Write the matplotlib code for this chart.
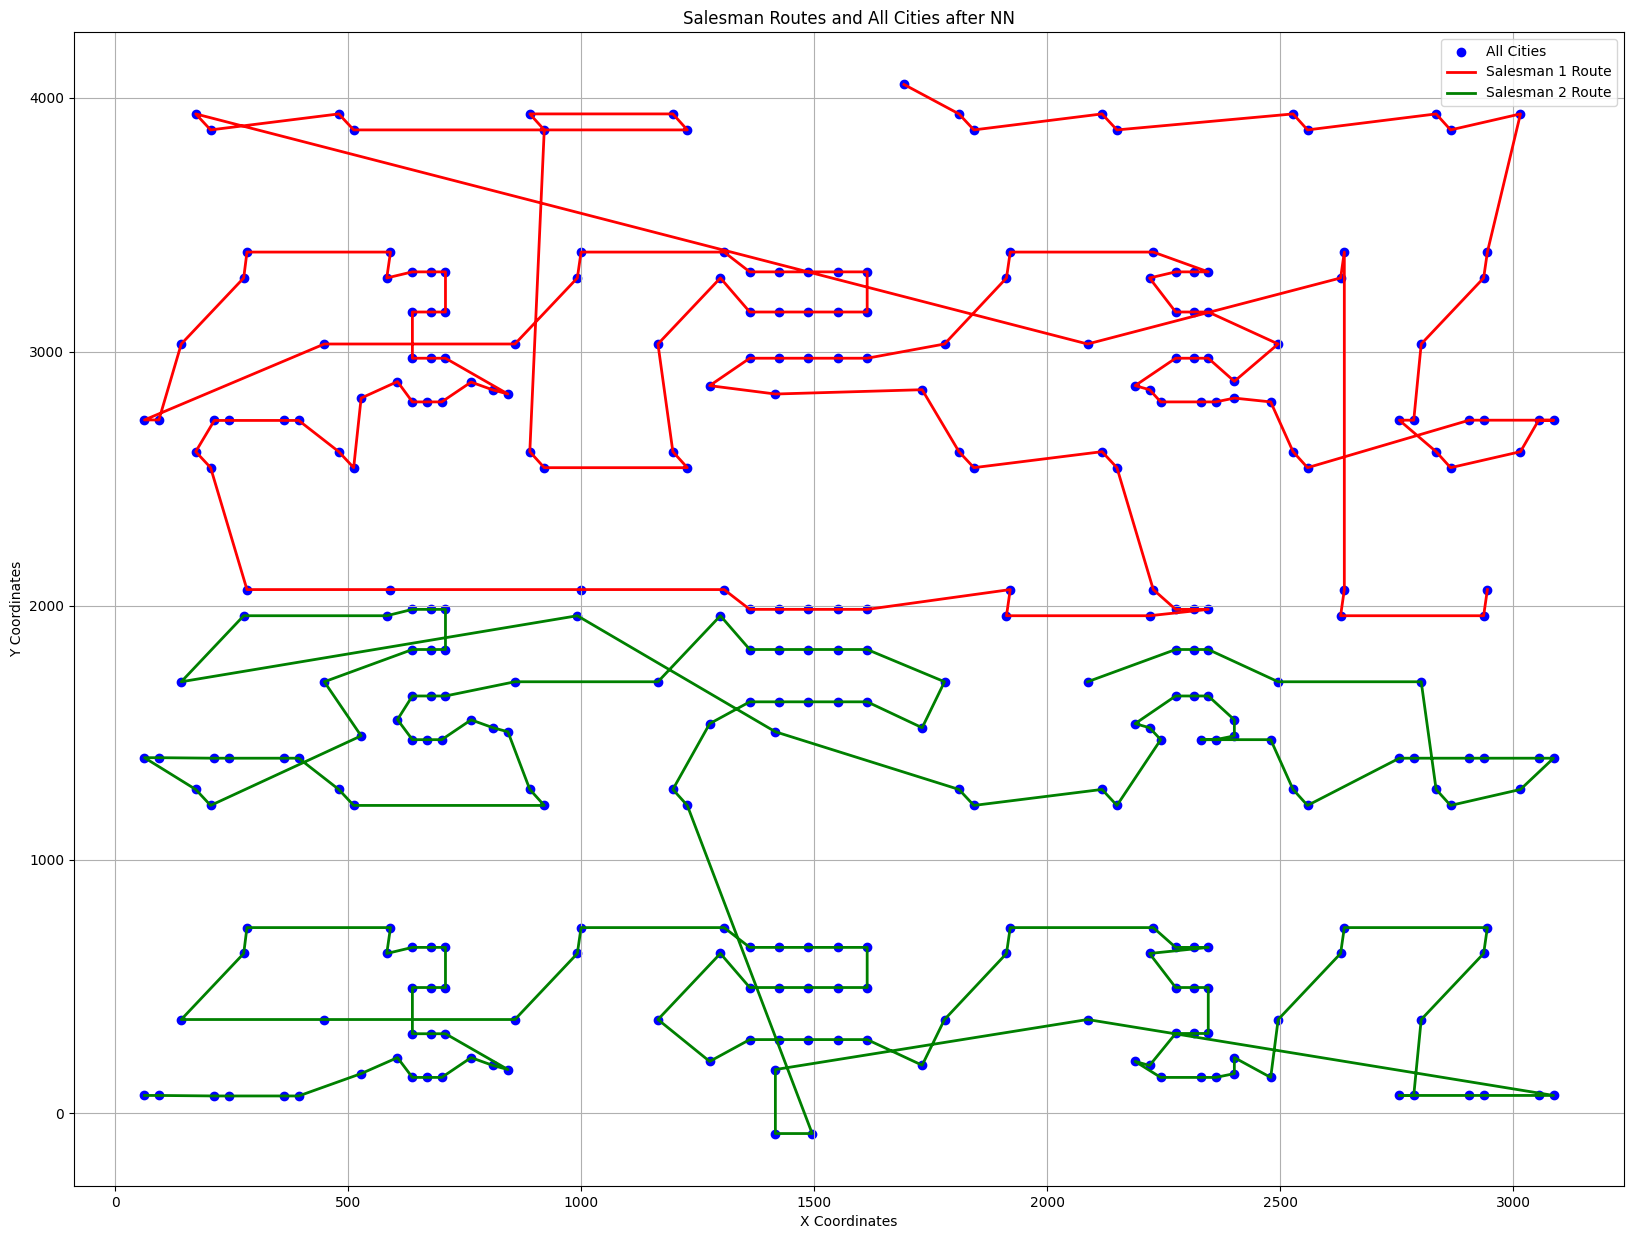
import matplotlib
matplotlib.use("Agg")
import matplotlib.pyplot as plt

# Salesman 1 route (ordered cities)
s1_x = [1693, 1811, 1843, 2118, 2150, 2528, 2559, 2835, 2866, 3016,
        2945, 2937, 2803, 2787, 2756, 2835, 2866, 3016, 3055, 3087,
        2937, 2906, 2559, 2528, 2480, 2402, 2362, 2331, 2244, 2220,
        2189, 2276, 2315, 2346, 2402, 2496, 2346, 2315, 2276, 2220,
        2276, 2315, 2346, 2228, 1921, 1913, 1780, 1614, 1551, 1488,
        1425, 1362, 1276, 1417, 1732, 1811, 1843, 2118, 2150, 2228,
        2276, 2315, 2346, 2220, 1913, 1921, 1614, 1551, 1488, 1425,
        1362, 1307, 1000, 591, 283, 205, 173, 213, 244, 362,
        394, 480, 512, 528, 606, 638, 669, 701, 764, 811,
        843, 709, 677, 638, 638, 677, 709, 709, 677, 638,
        583, 591, 283, 276, 142, 94, 63, 449, 858, 992,
        1000, 1307, 1362, 1425, 1488, 1551, 1614, 1614, 1551, 1488,
        1425, 1362, 1299, 1165, 1197, 1228, 921, 890, 921, 890,
        1197, 1228, 512, 480, 205, 173, 2087, 2630, 2638, 2638,
        2630, 2937, 2945]
s1_y = [4052, 3936, 3873, 3936, 3873, 3936, 3873, 3936, 3873, 3936,
        3392, 3290, 3030, 2730, 2730, 2606, 2543, 2606, 2730, 2730,
        2730, 2730, 2543, 2606, 2802, 2817, 2802, 2802, 2802, 2850,
        2866, 2974, 2974, 2974, 2883, 3030, 3156, 3156, 3156, 3290,
        3314, 3314, 3314, 3392, 3392, 3290, 3030, 2974, 2974, 2974,
        2974, 2974, 2866, 2833, 2850, 2606, 2543, 2606, 2543, 2063,
        1985, 1985, 1985, 1960, 1960, 2063, 1985, 1985, 1985, 1985,
        1985, 2063, 2063, 2063, 2063, 2543, 2606, 2729, 2729, 2729,
        2729, 2606, 2543, 2817, 2882, 2802, 2802, 2802, 2880, 2849,
        2833, 2974, 2974, 2974, 3156, 3156, 3156, 3314, 3314, 3314,
        3290, 3392, 3392, 3290, 3030, 2731, 2731, 3030, 3030, 3290,
        3392, 3392, 3314, 3314, 3314, 3314, 3314, 3156, 3156, 3156,
        3156, 3156, 3290, 3030, 2606, 2543, 2543, 2606, 3873, 3936,
        3936, 3873, 3873, 3936, 3873, 3936, 3030, 3290, 3392, 2063,
        1960, 1960, 2063]

# Salesman 2 route (ordered cities)
s2_x = [2087, 2276, 2315, 2346, 2496, 2803, 2835, 2866, 3016, 3087,
        3055, 2937, 2906, 2787, 2756, 2559, 2528, 2480, 2331, 2362,
        2402, 2402, 2346, 2315, 2276, 2189, 2220, 2244, 2150, 2118,
        1843, 1811, 1417, 992, 142, 276, 583, 638, 677, 709,
        709, 677, 638, 449, 528, 205, 173, 63, 94, 213,
        244, 362, 394, 480, 512, 921, 890, 843, 811, 764,
        701, 669, 638, 606, 638, 677, 709, 858, 1165, 1299,
        1362, 1425, 1488, 1551, 1614, 1780, 1732, 1614, 1551, 1488,
        1425, 1362, 1276, 1197, 1228, 1496, 1417, 1417, 2087, 3087,
        3055, 2937, 2906, 2756, 2787, 2803, 2937, 2945, 2638, 2630,
        2496, 2480, 2402, 2402, 2362, 2331, 2244, 2189, 2220, 2276,
        2315, 2346, 2346, 2315, 2276, 2220, 2346, 2315, 2276, 2228,
        1921, 1913, 1780, 1732, 1614, 1551, 1488, 1425, 1362, 1276,
        1165, 1299, 1362, 1425, 1488, 1551, 1614, 1614, 1551, 1488,
        1425, 1362, 1307, 1000, 992, 858, 449, 142, 276, 283,
        591, 583, 638, 677, 709, 709, 677, 638, 638, 677,
        709, 843, 811, 764, 701, 669, 638, 606, 528, 394,
        362, 244, 213, 94, 63]
s2_y = [1700, 1827, 1827, 1827, 1700, 1700, 1276, 1213, 1276, 1399,
        1399, 1399, 1399, 1399, 1399, 1213, 1276, 1472, 1472, 1472,
        1487, 1550, 1644, 1644, 1644, 1535, 1519, 1472, 1213, 1276,
        1213, 1276, 1503, 1960, 1700, 1960, 1960, 1985, 1985, 1985,
        1827, 1827, 1827, 1700, 1487, 1213, 1276, 1401, 1401, 1399,
        1399, 1399, 1399, 1276, 1213, 1213, 1276, 1503, 1519, 1550,
        1472, 1472, 1472, 1551, 1644, 1644, 1644, 1700, 1700, 1960,
        1827, 1827, 1827, 1827, 1827, 1700, 1519, 1621, 1621, 1621,
        1621, 1621, 1535, 1276, 1213, -79, -79, 173, 370, 71,
        71, 71, 71, 71, 71, 370, 630, 732, 732, 630,
        370, 142, 220, 157, 142, 142, 142, 205, 189, 315,
        315, 315, 496, 496, 496, 630, 654, 654, 654, 732,
        732, 630, 370, 190, 291, 291, 291, 291, 291, 205,
        370, 630, 496, 496, 496, 496, 496, 654, 654, 654,
        654, 654, 732, 732, 630, 370, 370, 370, 630, 732,
        732, 630, 654, 654, 654, 496, 496, 496, 314, 314,
        314, 173, 189, 220, 142, 142, 142, 220, 157, 69,
        69, 69, 69, 71, 71]

cities_x = s1_x + s2_x
cities_y = s1_y + s2_y

fig = plt.figure(figsize=(16.34, 12.40), dpi=100)
ax = fig.add_axes([74 / 1634, 1 - 1186 / 1240, (1624 - 74) / 1634, (1186 - 32) / 1240])

ax.scatter(cities_x, cities_y, c="blue", label="All Cities")
ax.plot(s1_x, s1_y, color="red", linewidth=2, label="Salesman 1 Route")
ax.plot(s2_x, s2_y, color="green", linewidth=2, label="Salesman 2 Route")

ax.set_title("Salesman Routes and All Cities after NN")
ax.set_xlabel("X Coordinates")
ax.set_ylabel("Y Coordinates")
ax.grid(True)
ax.legend(loc="upper right")

fig.savefig("out.png", dpi=100)
